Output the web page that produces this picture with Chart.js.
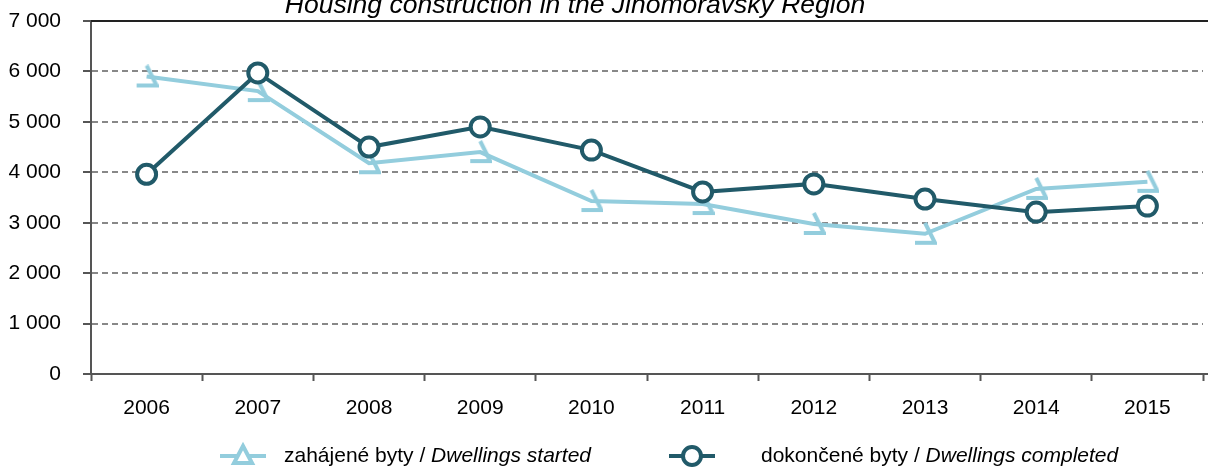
<!DOCTYPE html>
<html>
<head>
<meta charset="utf-8">
<script src="https://cdn.jsdelivr.net/npm/chart.js@4.4.1/dist/chart.umd.min.js"></script>
<style>
  html,body{ margin:0; padding:0; background:#fff; overflow:hidden }
  #wrap{ position:relative; width:1208px; height:468px }
</style>
</head>
<body>
<div id="wrap"><canvas id="c" width="1208" height="468"></canvas></div>
<script>
// data
const years = ['2006','2007','2008','2009','2010','2011','2012','2013','2014','2015'];
const started = [5900, 5610, 4180, 4400, 3430, 3370, 2975, 2780, 3670, 3810];
const completed = [3960, 5970, 4500, 4900, 4440, 3610, 3770, 3470, 3210, 3330];
const yTicks = [0, 1000, 2000, 3000, 4000, 5000, 6000, 7000];

const title = 'Housing construction in the Jihomoravský Region';
const legendStarted = ['zahájené byty / ', 'Dwellings started'];
const legendCompleted = ['dokončené byty / ', 'Dwellings completed'];

const LIGHT = '#93cddd', DARK = '#215a69';
const FONT = '"Liberation Sans", Arial, sans-serif';

// broken triangle marker like in the source
function startedMarker(){
  const c = document.createElement('canvas');
  c.width = 24; c.height = 24;
  const g = c.getContext('2d');
  g.strokeStyle = LIGHT; g.lineWidth = 4; g.lineCap = 'butt';
  g.beginPath();
  g.moveTo(2, 21); g.lineTo(22, 21); g.lineTo(12, 1);
  g.stroke();
  return c;
}

const fmt = v => String(v).replace(/\B(?=(\d{3})+(?!\d))/g, ' ');

const extras = {
  id: 'extras',
  afterDraw(chart){
    const ctx = chart.ctx, a = chart.chartArea, W = chart.width;
    ctx.save();
    // solid top border, running to the edge like the axis line
    ctx.strokeStyle = '#222'; ctx.lineWidth = 2;
    ctx.beginPath(); ctx.moveTo(a.left, a.top); ctx.lineTo(W, a.top); ctx.stroke();
    ctx.strokeStyle = '#555';
    ctx.beginPath(); ctx.moveTo(a.right - 1, a.bottom); ctx.lineTo(W, a.bottom); ctx.stroke();

    // title, cut by the top edge
    ctx.fillStyle = '#000';
    ctx.font = 'italic 26.5px ' + FONT;
    ctx.textAlign = 'center'; ctx.textBaseline = 'alphabetic';
    ctx.fillText(title, 575, 12.5);

    // legend
    const ly = 456;
    ctx.textAlign = 'left'; ctx.textBaseline = 'middle';
    ctx.lineWidth = 4;
    ctx.strokeStyle = LIGHT;
    ctx.beginPath(); ctx.moveTo(220, ly); ctx.lineTo(266, ly); ctx.stroke();
    ctx.fillStyle = '#fff';
    ctx.beginPath(); ctx.moveTo(243, ly - 10); ctx.lineTo(252, ly + 7); ctx.lineTo(234, ly + 7); ctx.closePath();
    ctx.fill(); ctx.stroke();

    ctx.fillStyle = '#000';
    let x = 284;
    ctx.font = '21px ' + FONT;
    ctx.fillText(legendStarted[0], x, ly); x += ctx.measureText(legendStarted[0]).width;
    ctx.font = 'italic 21px ' + FONT;
    ctx.fillText(legendStarted[1], x, ly);

    ctx.strokeStyle = DARK;
    ctx.beginPath(); ctx.moveTo(669, ly); ctx.lineTo(715, ly); ctx.stroke();
    ctx.fillStyle = '#fff';
    ctx.beginPath(); ctx.arc(692, ly, 9, 0, Math.PI * 2); ctx.fill(); ctx.stroke();

    ctx.fillStyle = '#000';
    x = 761;
    ctx.font = '21px ' + FONT;
    ctx.fillText(legendCompleted[0], x, ly); x += ctx.measureText(legendCompleted[0]).width;
    ctx.font = 'italic 21px ' + FONT;
    ctx.fillText(legendCompleted[1], x, ly);
    ctx.restore();
  }
};

new Chart(document.getElementById('c'), {
  type: 'line',
  data: {
    labels: years,
    datasets: [
      {
        label: legendStarted.join(''),
        data: started,
        borderColor: LIGHT, borderWidth: 4,
        pointStyle: startedMarker(),
        pointRadius: 10, pointHoverRadius: 10,
        tension: 0, order: 1
      },
      {
        label: legendCompleted.join(''),
        data: completed,
        borderColor: DARK, borderWidth: 4,
        pointStyle: 'circle', pointRadius: 9.5, pointHoverRadius: 9.5,
        pointBackgroundColor: '#fff', pointBorderColor: DARK, pointBorderWidth: 4,
        tension: 0, order: 0
      }
    ]
  },
  options: {
    responsive: false,
    animation: false,
    events: [],
    layout: { autoPadding: false, padding: { top: 21, right: 5, bottom: 0, left: 0 } },
    plugins: { legend: { display: false }, tooltip: { enabled: false }, title: { display: false } },
    scales: {
      x: {
        offset: true,
        afterFit: s => { s.height = 94; s.paddingRight = 0; s.paddingLeft = 0; },
        grid: { offset: true, drawOnChartArea: false, drawTicks: true, tickLength: 7, tickColor: '#555', tickWidth: 2 },
        border: { color: '#555', width: 2 },
        ticks: { color: '#000', font: { family: FONT, size: 21 }, padding: 15, maxRotation: 0 }
      },
      y: {
        min: 0, max: 7000,
        afterFit: s => { s.width = 91; s.paddingTop = 0; s.paddingBottom = 0; },
        afterBuildTicks: s => { s.ticks = yTicks.map(v => ({ value: v })); },
        grid: { color: '#888', lineWidth: 2, drawTicks: true, tickLength: 8, tickColor: '#555', tickWidth: 2 },
        border: { color: '#555', width: 2, dash: [6, 4] },
        ticks: { color: '#000', font: { family: FONT, size: 21 }, padding: 22, callback: v => fmt(v) }
      }
    }
  },
  plugins: [extras]
});
</script>
</body>
</html>
